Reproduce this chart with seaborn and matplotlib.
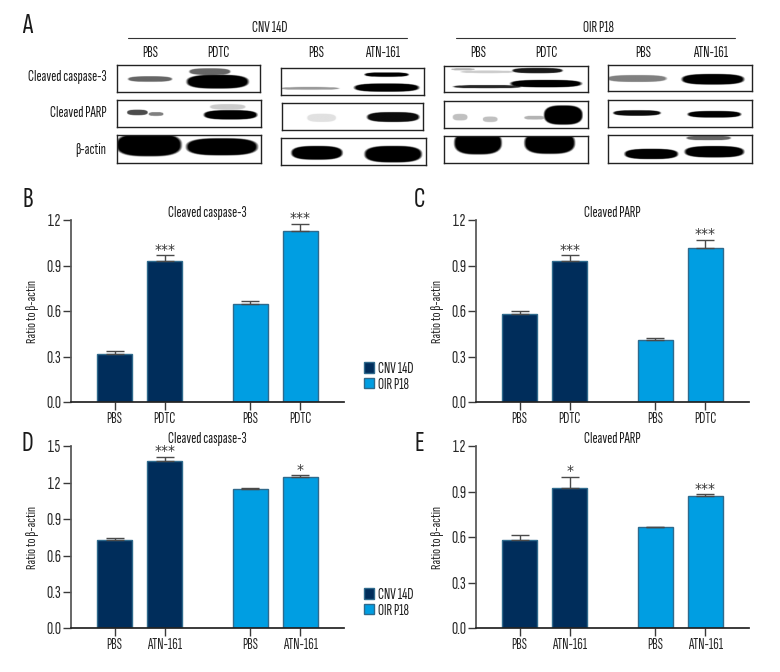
import numpy as np
import pandas as pd
import matplotlib
matplotlib.use('Agg')
import matplotlib.pyplot as plt
import seaborn as sns

# Valeurs
models = ['CNV 14D', 'CNV 14D', 'OIR P18', 'OIR P18']
labels_pdtc = ['PBS', 'PDTC', 'PBS', 'PDTC']
labels_atn = ['PBS', 'ATN-161', 'PBS', 'ATN-161']

b_values = [0.32, 0.93, 0.65, 1.13]
b_errors = [0.02, 0.04, 0.02, 0.045]
b_stars = ['', '***', '', '***']

c_values = [0.58, 0.93, 0.41, 1.02]
c_errors = [0.02, 0.04, 0.012, 0.05]
c_stars = ['', '***', '', '***']

d_values = [0.725, 1.38, 1.15, 1.25]
d_errors = [0.022, 0.035, 0.008, 0.012]
d_stars = ['', '***', '', '*']

e_values = [0.58, 0.925, 0.668, 0.87]
e_errors = [0.038, 0.073, 0.002, 0.014]
e_stars = ['', '*', '', '***']

ticks_12 = [0.0, 0.3, 0.6, 0.9, 1.2]
ticks_15 = [0.0, 0.3, 0.6, 0.9, 1.2, 1.5]

# Bandes des western blots : centre x, centre y, demi-largeur, demi-hauteur, intensité
blot_bands = {
    'c1r1': [(.23, .52, .15, .10, .6), (.705, .62, .21, .25, 1), (.65, .24, .14, .12, .6)],
    'c1r2': [(.14, .46, .07, .10, .7), (.27, .52, .05, .07, .5), (.79, .55, .18, .17, 1), (.77, .25, .12, .1, .2)],
    'c1r3': [(.22, .35, .22, .40, 1), (.73, .42, .24, .30, 1)],
    'c2r1': [(.2, .76, .2, .05, .4), (.74, .24, .15, .08, 1), (.74, .73, .22, .15, 1)],
    'c2r2': [(.28, .55, .1, .15, .12), (.79, .52, .18, .18, .95)],
    'c2r3': [(.245, .55, .17, .25, 1), (.77, .6, .19, .3, 1)],
    'c3r1': [(.13, .12, .08, .04, .3), (.3, .22, .18, .05, .2), (.3, .8, .23, .06, .85), (.71, .68, .24, .14, 1), (.65, .17, .17, .1, .9)],
    'c3r2': [(.11, .6, .05, .12, .25), (.32, .68, .05, .1, .25), (.63, .62, .07, .07, .3), (.83, .52, .13, .35, 1)],
    'c3r3': [(.235, .25, .16, .42, 1), (.735, .25, .17, .4, 1)],
    'c4r1': [(.2, .52, .2, .13, .5), (.73, .55, .21, .2, 1)],
    'c4r2': [(.2, .48, .16, .1, .95), (.74, .53, .18, .12, 1)],
    'c4r3': [(.3, .68, .18, .18, 1), (.74, .6, .2, .2, 1), (.7, .1, .15, .08, .6)],
}

# Boites des blots en pixels : gauche, haut, droite, bas
blot_boxes = {
    'c1r1': (117, 65, 259.5, 92), 'c1r2': (117, 100, 261, 127), 'c1r3': (117, 135, 261, 163),
    'c2r1': (281, 68, 424, 95), 'c2r2': (282, 103, 423, 130), 'c2r3': (281, 138, 426, 165),
    'c3r1': (444, 66, 588, 92), 'c3r2': (444, 101, 588, 128), 'c3r3': (444, 136, 588, 163),
    'c4r1': (608, 65, 752, 91), 'c4r2': (608, 100, 752, 127), 'c4r3': (608, 135, 752, 163),
}

W, H = 780, 672
NAVY = '#002d5b'
CYAN = '#009ee2'
DARK = '#3a3a3a'
FS = 11
palette = {'CNV 14D': NAVY, 'OIR P18': CYAN}
bar_x = [0, 1, 2.7, 3.7]

sns.set_theme(style='ticks')
plt.rcParams['font.family'] = ['Sofia Sans Extra Condensed', 'DejaVu Sans']
plt.rcParams['font.size'] = FS
plt.rcParams['text.color'] = '#1a1a1a'

fig = plt.figure(figsize=(W / 100, H / 100), dpi=100)


def px_axes(left, top, right, bottom):
    return fig.add_axes([left / W, 1 - bottom / H, (right - left) / W, (bottom - top) / H])


def fig_text(x, y, s, **kw):
    kw.setdefault('ha', 'center')
    kw.setdefault('va', 'center')
    fig.text(x / W, 1 - y / H, s, **kw)


def draw_blot(name):
    ax = px_axes(*blot_boxes[name])
    yy, xx = np.mgrid[0:1:60j, 0:1:200j]
    dark = np.zeros_like(xx)
    for cx, cy, hw, hh, strength in blot_bands[name]:
        d = np.abs((xx - cx) / hw) ** 3 + np.abs((yy - cy) / hh) ** 2.5
        dark = np.maximum(dark, strength * np.clip((1.25 - d) * 3, 0, 1))
    ax.imshow(1 - dark, cmap='gray', vmin=0, vmax=1, aspect='auto', extent=(0, 1, 1, 0))
    ax.set_xticks([])
    ax.set_yticks([])
    for sp in ax.spines.values():
        sp.set_linewidth(1.0)
        sp.set_color('#222222')


def draw_panel(box, values, errors, labels, title, stars, yticks, show_legend=False):
    ax = px_axes(*box)
    df = pd.DataFrame({'x': bar_x, 'value': values, 'model': models})
    sns.barplot(data=df, x='x', y='value', hue='model', native_scale=True, dodge=False,
                width=0.7, errorbar=None, palette=palette, saturation=1, edgecolor='#2f6a8c',
                linewidth=1, legend=show_legend, ax=ax)
    ax.errorbar(bar_x, values, yerr=[np.zeros(4), errors], fmt='none', ecolor='#4a4a4a',
                elinewidth=1, capsize=6.5, capthick=1)
    for x, v, e, s in zip(bar_x, values, errors, stars):
        if s:
            ax.annotate(s, (x, v + e), xytext=(0, -1), textcoords='offset points',
                        ha='center', va='bottom', fontsize=10, color='#333333', family='DejaVu Sans')
    ax.set_xlim(-0.87, 4.568)
    ax.set_ylim(0, yticks[-1])
    ax.set_xticks(bar_x)
    ax.set_xticklabels(labels)
    ax.set_yticks(yticks)
    ax.set_yticklabels([f'{t:.1f}' for t in yticks], fontsize=12.5)
    ax.set_xlabel('')
    ax.set_ylabel('Ratio to β-actin', fontsize=10.5, labelpad=5)
    ax.set_title(title, fontsize=FS, pad=2)
    ax.tick_params(axis='both', length=5.5, width=1, color=DARK, pad=1.5)
    ax.tick_params(axis='x', labelsize=FS)
    sns.despine(ax=ax)
    ax.spines['left'].set_color('#555555')
    ax.spines['bottom'].set_color('#222222')
    if show_legend:
        ax.legend(title=None, frameon=False, loc='upper left',
                  bbox_to_anchor=((363.5 - box[0]) / (box[2] - box[0]), 1 - (362 - 220.3) / (box[3] - box[1])),
                  handlelength=0.68, handleheight=0.68, handletextpad=0.25, labelspacing=0.1,
                  borderaxespad=0, borderpad=0, fontsize=FS)
    return ax


# Partie A : blots
for name in blot_boxes:
    draw_blot(name)

for x0, x1, xc, s in [(128, 407, 270, 'CNV 14D'), (456, 735, 598, 'OIR P18')]:
    fig.add_artist(plt.Line2D([x0 / W, x1 / W], [1 - 37.7 / H] * 2, color='#333333', lw=0.8))
    fig_text(xc, 28, s)

for x, s in [(150, 'PBS'), (218, 'PDTC'), (316, 'PBS'), (383, 'ATN-161'),
             (478, 'PBS'), (546, 'PDTC'), (643, 'PBS'), (711, 'ATN-161')]:
    fig_text(x, 53, s)

for y, s in [(77, 'Cleaved caspase-3'), (113, 'Cleaved PARP'), (150, 'β-actin')]:
    fig_text(106.5, y, s, ha='right')

for x, y, s in [(27.5, 26, 'A'), (27.5, 200, 'B'), (419, 200, 'C'), (27.5, 444, 'D'), (419, 444, 'E')]:
    fig_text(x, y, s, fontsize=21)

# Parties B a E : barres
draw_panel((71, 220.3, 344, 402.3), b_values, b_errors, labels_pdtc, 'Cleaved caspase-3', b_stars, ticks_12, True)
draw_panel((476, 220.3, 749, 402.3), c_values, c_errors, labels_pdtc, 'Cleaved PARP', c_stars, ticks_12)
draw_panel((71, 446.3, 344, 628.3), d_values, d_errors, labels_atn, 'Cleaved caspase-3', d_stars, ticks_15, True)
draw_panel((476, 446.3, 749, 628.3), e_values, e_errors, labels_atn, 'Cleaved PARP', e_stars, ticks_12)

fig.savefig('out.png', dpi=100)
